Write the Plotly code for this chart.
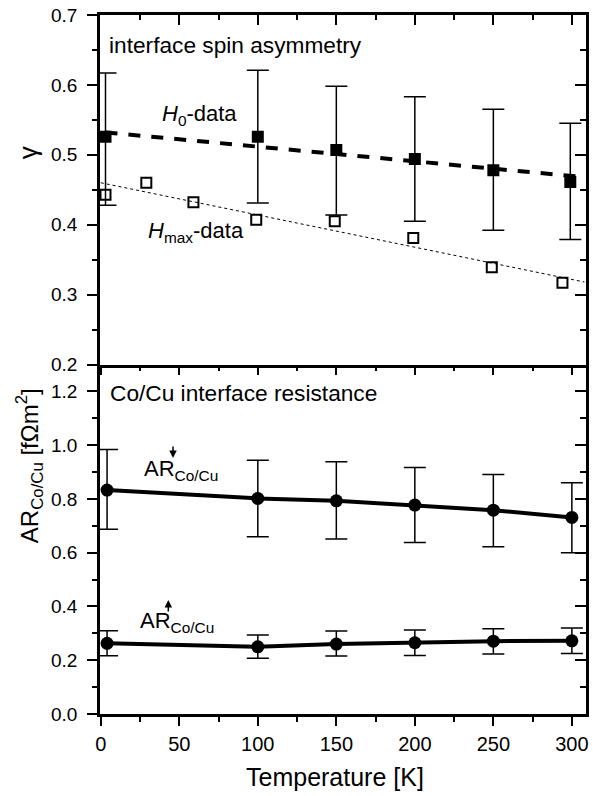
import plotly.graph_objects as go

# ---------------- data ----------------
# top panel: interface spin asymmetry gamma
T_h0 = [3, 100, 150, 200, 250, 299]
gamma_h0 = [0.526, 0.526, 0.507, 0.494, 0.478, 0.461]
gamma_h0_hi = [0.617, 0.621, 0.598, 0.583, 0.565, 0.545]
gamma_h0_lo = [0.428, 0.431, 0.414, 0.405, 0.392, 0.379]

T_hmax = [3, 29, 59, 99, 149, 199, 249, 294]
gamma_hmax = [0.443, 0.460, 0.432, 0.407, 0.405, 0.381, 0.339, 0.317]

h0_fit_T = [3, 308]
h0_fit_gamma = [0.532, 0.468]
hmax_fit_T = [0, 308]
hmax_fit_gamma = [0.460, 0.318]

# bottom panel: Co/Cu interface resistance
T_ar = [4, 100, 150, 200, 250, 300]
ar_down = [0.833, 0.802, 0.793, 0.777, 0.758, 0.731]
ar_down_hi = [0.984, 0.944, 0.938, 0.917, 0.891, 0.860]
ar_down_lo = [0.687, 0.659, 0.651, 0.638, 0.622, 0.600]
ar_up = [0.263, 0.250, 0.260, 0.265, 0.271, 0.272]
ar_up_hi = [0.310, 0.294, 0.309, 0.312, 0.317, 0.320]
ar_up_lo = [0.217, 0.207, 0.216, 0.218, 0.223, 0.225]

x_ticks = [0, 50, 100, 150, 200, 250, 300]
y_top_ticks = [0.2, 0.3, 0.4, 0.5, 0.6, 0.7]
y_bot_ticks = [0.0, 0.2, 0.4, 0.6, 0.8, 1.0, 1.2]

# ---------------- styling ----------------
FONT = "Liberation Sans, Arial, Helvetica, sans-serif"
BLACK = "black"
XR = [-0.5, 309]
YR_TOP = [0.2, 0.7]
YR_BOT = [0.0, 1.3]
AXW = 2.5


def err(val, hi, lo):
    return ([h - v for h, v in zip(hi, val)], [v - l for v, l in zip(val, lo)])


fig = go.Figure()

# --- top panel ---
fig.add_trace(go.Scatter(x=h0_fit_T, y=h0_fit_gamma, mode="lines",
                         line=dict(color=BLACK, width=4, dash="12px,11px"),
                         xaxis="x2", yaxis="y", showlegend=False, hoverinfo="skip"))
fig.add_trace(go.Scatter(x=hmax_fit_T, y=hmax_fit_gamma, mode="lines",
                         line=dict(color=BLACK, width=1, dash="dot"),
                         xaxis="x2", yaxis="y", showlegend=False, hoverinfo="skip"))
p, m = err(gamma_h0, gamma_h0_hi, gamma_h0_lo)
fig.add_trace(go.Scatter(x=T_h0, y=gamma_h0, mode="markers",
                         marker=dict(symbol="square", size=12, color=BLACK),
                         error_y=dict(type="data", array=p, arrayminus=m, color=BLACK,
                                      thickness=1.5, width=11),
                         xaxis="x2", yaxis="y", showlegend=False))
fig.add_trace(go.Scatter(x=T_hmax, y=gamma_hmax, mode="markers",
                         marker=dict(symbol="square-open", size=10, color=BLACK,
                                     line=dict(width=2, color=BLACK)),
                         xaxis="x2", yaxis="y", showlegend=False))

# --- bottom panel ---
for val, hi, lo in [(ar_down, ar_down_hi, ar_down_lo), (ar_up, ar_up_hi, ar_up_lo)]:
    p, m = err(val, hi, lo)
    fig.add_trace(go.Scatter(x=T_ar, y=val, mode="lines+markers",
                             line=dict(color=BLACK, width=4),
                             marker=dict(symbol="circle", size=13, color=BLACK),
                             error_y=dict(type="data", array=p, arrayminus=m, color=BLACK,
                                          thickness=1.5, width=11),
                             xaxis="x", yaxis="y2", showlegend=False))

# dummy traces so the overlay (mirror) axes get drawn
for xa, ya in [("x3", "y"), ("x2", "y3"), ("x", "y4")]:
    fig.add_trace(go.Scatter(x=[None], y=[None], mode="markers", xaxis=xa, yaxis=ya,
                             showlegend=False, hoverinfo="skip"))

TF19 = dict(family=FONT, size=19, color=BLACK)
TF20 = dict(family=FONT, size=20, color=BLACK)
common = dict(showgrid=False, zeroline=False, showline=True, linecolor=BLACK,
              linewidth=AXW, tickcolor=BLACK, tickwidth=2)

fig.update_layout(
    width=593, height=796,
    margin=dict(l=100, r=5, t=15, b=82),
    paper_bgcolor="white", plot_bgcolor="white",
    font=dict(family=FONT, color=BLACK),
    # bottom panel x axis (labels)
    xaxis=dict(**common, domain=[0, 1], anchor="y2", range=XR, tickvals=x_ticks,
               ticks="outside", ticklen=9,
               minor=dict(dtick=25, tick0=0, ticks="outside", ticklen=5, tickwidth=2, tickcolor=BLACK),
               tickfont=TF20, ticklabelstandoff=1),
    # top panel bottom axis (ticks pointing into lower panel)
    xaxis2=dict(**common, domain=[0, 1], anchor="y", range=XR, tickvals=x_ticks,
                ticks="outside", ticklen=8, showticklabels=False,
                minor=dict(dtick=25, tick0=0, ticks="outside", ticklen=4, tickwidth=2, tickcolor=BLACK)),
    # top panel top axis (inside ticks)
    xaxis3=dict(**common, overlaying="x2", side="top", anchor="y", range=XR, tickvals=x_ticks,
                ticks="inside", ticklen=10, showticklabels=False,
                minor=dict(dtick=25, tick0=0, ticks="inside", ticklen=5, tickwidth=2, tickcolor=BLACK)),
    yaxis=dict(**common, domain=[0.5, 1], anchor="x2", range=YR_TOP, tickvals=y_top_ticks,
               ticktext=[f"{v:.1f}" for v in y_top_ticks], tickfont=TF19,
               ticks="outside", ticklen=10, ticklabelstandoff=6,
               minor=dict(dtick=0.05, tick0=0.2, ticks="outside", ticklen=5, tickwidth=2, tickcolor=BLACK)),
    yaxis2=dict(**common, domain=[0, 0.5], anchor="x", range=YR_BOT, tickvals=y_bot_ticks,
                ticktext=[f"{v:.1f}" for v in y_bot_ticks], tickfont=TF19,
                ticks="outside", ticklen=10, ticklabelstandoff=6,
                minor=dict(dtick=0.1, tick0=0, ticks="outside", ticklen=5, tickwidth=2, tickcolor=BLACK)),
    yaxis3=dict(**common, overlaying="y", side="right", anchor="x2", range=YR_TOP,
                tickvals=y_top_ticks, ticks="inside", ticklen=11, showticklabels=False,
                minor=dict(dtick=0.05, tick0=0.2, ticks="inside", ticklen=6, tickwidth=2, tickcolor=BLACK)),
    yaxis4=dict(**common, overlaying="y2", side="right", anchor="x", range=YR_BOT,
                tickvals=y_bot_ticks, ticks="inside", ticklen=11, showticklabels=False,
                minor=dict(dtick=0.1, tick0=0, ticks="inside", ticklen=6, tickwidth=2, tickcolor=BLACK)),
)

ann_font = dict(family=FONT, size=22, color=BLACK)
big_font = dict(family=FONT, size=22.7, color=BLACK)
annotations = [
    dict(text="interface spin asymmetry", x=0.014, y=0.957, xanchor="left", yanchor="middle", font=big_font),
    dict(text="Co/Cu interface resistance", x=0.016, y=0.459, xanchor="left", yanchor="middle", font=big_font),
    dict(text="<i>H</i><sub>0</sub>-data", x=0.123, y=0.857, xanchor="left", yanchor="middle", font=ann_font),
    dict(text="<i>H</i><sub>max</sub>-data", x=0.094, y=0.690, xanchor="left", yanchor="middle", font=ann_font),
    dict(text="AR<sub>Co/Cu</sub>", x=0.086, y=0.349, xanchor="left", yanchor="middle", font=ann_font),
    dict(text="AR<sub>Co/Cu</sub>", x=0.078, y=0.132, xanchor="left", yanchor="middle", font=ann_font),
]
for a in annotations:
    fig.add_annotation(**a, xref="paper", yref="paper", showarrow=False)

# spin arrows above the R
fig.add_annotation(x=46, y=0.952, xref="x", yref="y2", text="", showarrow=True,
                   ax=0, ay=-13, arrowhead=2, arrowsize=1, arrowwidth=1.5, arrowcolor=BLACK)
fig.add_annotation(x=43, y=0.424, xref="x", yref="y2", text="", showarrow=True,
                   ax=0, ay=13, arrowhead=2, arrowsize=1, arrowwidth=1.5, arrowcolor=BLACK)

# axis titles
fig.add_annotation(text="γ", x=-0.1475, y=0.8026, xref="paper", yref="paper", textangle=-90,
                   showarrow=False, font=dict(family=FONT, size=26, color=BLACK),
                   xanchor="center", yanchor="middle")
fig.add_annotation(text="AR<sub>Co/Cu</sub> [fΩm<sup>2</sup>]", x=-0.1455, y=0.355,
                   xref="paper", yref="paper", textangle=-90, showarrow=False,
                   font=dict(family=FONT, size=24, color=BLACK), xanchor="center", yanchor="middle")
fig.add_annotation(text="Temperature [K]", x=0.4836, y=-0.0901, xref="paper", yref="paper",
                   showarrow=False, font=dict(family=FONT, size=25, color=BLACK),
                   xanchor="center", yanchor="middle")

fig.write_html("out.html", config={"displayModeBar": False},
               post_script="document.body.style.margin='0';")
